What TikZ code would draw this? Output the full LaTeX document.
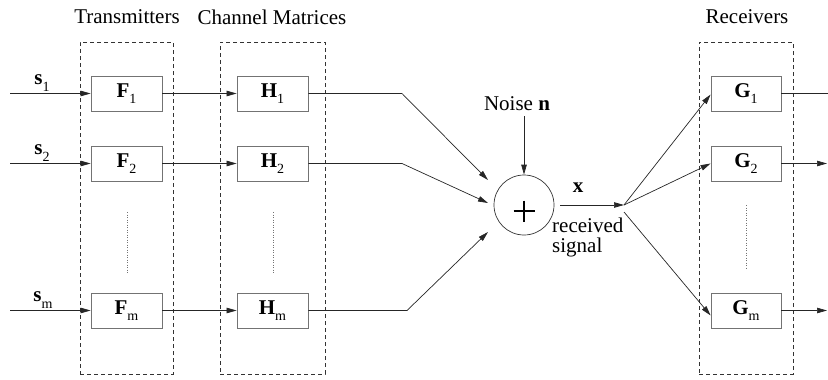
\documentclass[tikz,border=0pt]{standalone}
\usepackage{fontspec}
\setmainfont{Liberation Serif}
\usetikzlibrary{arrows.meta}
% bold symbol with an upright, lowered subscript
\newcommand{\symsub}[2]{\textbf{#1}\raisebox{-0.3em}{\fontsize{14}{14}\selectfont #2}}
\begin{document}
\begin{tikzpicture}[x=1pt,y=-1pt,
  font=\fontsize{21}{18}\selectfont,
  blk/.style={draw=black!55, line width=0.8pt, minimum width=71pt, minimum height=35pt, inner sep=0pt},
  grp/.style={draw=black!80, line width=0.7pt, dash pattern=on 4pt off 3pt, inner sep=0pt},
  tip/.style={-{Triangle[length=10pt,width=5.5pt]}},
  wire/.style={line width=0.7pt, draw=black!85},
  dots/.style={line width=0.7pt, draw=black!55, dash pattern=on 1pt off 1.5pt},
  lbl/.style={inner sep=0pt}]
\useasboundingbox (0,0) rectangle (828,380);

% group frames
\node[grp, minimum width=93pt, minimum height=332pt] (gT) at (126.5,208) {};
\node[grp, minimum width=105pt, minimum height=332pt] (gH) at (272.5,208) {};
\node[grp, minimum width=94pt, minimum height=332pt] (gR) at (746,208) {};

% titles
\node[lbl] (tT) at (127,17) {Transmitters};
\node[lbl] (tH) at (272,17) {Channel Matrices};
\node[lbl] (tR) at (747,17) {Receivers};

% blocks
\node[blk] (F1) at (126.5,93.5) {\symsub{F}{1}};
\node[blk] (F2) at (126.5,163.5) {\symsub{F}{2}};
\node[blk] (Fm) at (126.5,310.5) {\symsub{F}{m}};
\node[blk] (H1) at (272.5,93.5) {\symsub{H}{1}};
\node[blk] (H2) at (272.5,163.5) {\symsub{H}{2}};
\node[blk] (Hm) at (272.5,310.5) {\symsub{H}{m}};
\node[blk, minimum width=70pt] (G1) at (746,93.5) {\symsub{G}{1}};
\node[blk, minimum width=70pt] (G2) at (746,163.5) {\symsub{G}{2}};
\node[blk, minimum width=70pt] (Gm) at (746,310.5) {\symsub{G}{m}};

% vertical ellipses
\draw[dots] (127,212) -- (127,273);
\draw[dots] (273,212) -- (273,273);
\draw[dots] (746,205) -- (746,268);

% inputs
\coordinate (i1) at (10,93.5);
\coordinate (i2) at (10,163.5);
\coordinate (im) at (10,310.5);
\node[lbl] (s1) at (42,83) {\symsub{s}{1}};
\node[lbl] (s2) at (42,153) {\symsub{s}{2}};
\node[lbl] (sm) at (43,300) {\symsub{s}{m}};
\draw[wire,tip] (i1) -- (F1.west);
\draw[wire,tip] (i2) -- (F2.west);
\draw[wire,tip] (im) -- (Fm.west);

\draw[wire,tip] (F1.east) -- (H1.west);
\draw[wire,tip] (F2.east) -- (H2.west);
\draw[wire,tip] (Fm.east) -- (Hm.west);

% adder with its plus sign
\node[draw=black!80, line width=0.7pt, circle, minimum size=60pt, inner sep=0pt] (sum) at (524,205) {};
\draw[line width=1.1pt] ([shift={(-10.5pt,-6pt)}]sum.center) -- ([shift={(10.5pt,-6pt)}]sum.center);
\draw[line width=1.1pt] ([shift={(0pt,4.5pt)}]sum.center) -- ([shift={(0pt,-16.5pt)}]sum.center);
\node[lbl] (noise) at (517,104) {Noise \textbf{n}};
\draw[wire,tip] (noise.south -| sum.north) ++(0,5) -- (sum.north);

% channel outputs into the adder
\coordinate (b1) at (402,93.5);
\coordinate (b2) at (402,163.5);
\coordinate (bm) at (407,310.5);
\coordinate (e1) at (488,180);
\coordinate (e2) at (488,203);
\coordinate (em) at (488,232);
\draw[wire,tip] (H1.east) -- (b1) -- (e1);
\draw[wire,tip] (H2.east) -- (b2) -- (e2);
\draw[wire,tip] (Hm.east) -- (bm) -- (em);

% received signal
\coordinate (xj) at (624,205);
\coordinate (xk) at (624,212);
\draw[wire,tip,shorten <=6pt] (sum.east) -- (xj);
\node[lbl] (xl) at (578,188) {\textbf{x}};
\node[lbl, anchor=base west] (rs1) at (552,232) {received};
\node[lbl, anchor=base west] (rs2) at (552,252) {signal};

% distribution to receivers
\draw[wire,tip] (xj) -- ([yshift=-1pt]G1.west);
\draw[wire,tip] (xj) -- (G2.west);
\draw[wire,tip] (xk) -- ([yshift=-5pt]Gm.west);

% receiver outputs
\coordinate (o1) at (828,93.5);
\coordinate (o2) at (827,163.5);
\coordinate (om) at (827,310.5);
\draw[wire] (G1.east) -- (o1);
\draw[wire,tip] (G2.east) -- (o2);
\draw[wire,tip] (Gm.east) -- (om);
\end{tikzpicture}
\end{document}
